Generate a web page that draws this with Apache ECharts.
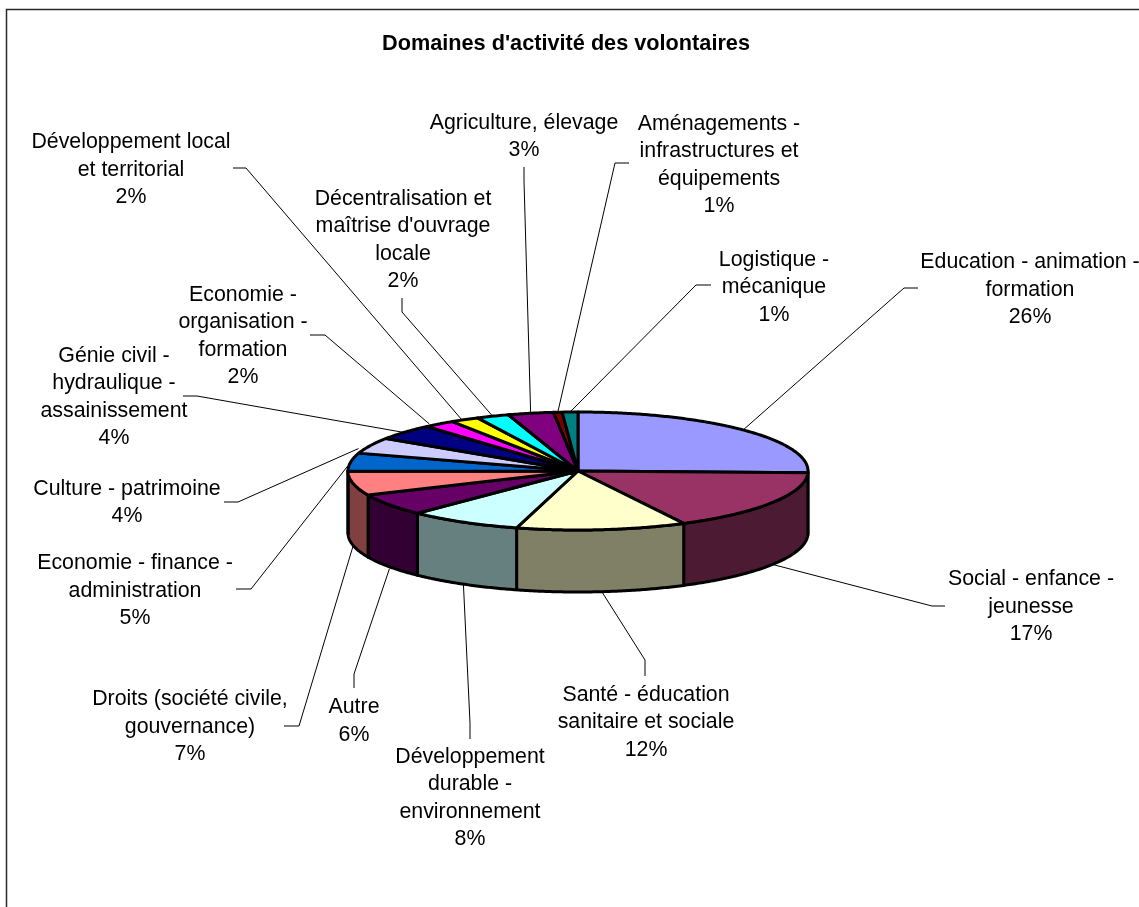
<!DOCTYPE html>
<html>
<head>
<meta charset="utf-8">
<style>html,body{margin:0;padding:0;background:#fff}#c{width:1139px;height:907px}</style>
<script src="https://cdn.jsdelivr.net/npm/echarts@6/dist/echarts.min.js"></script>
</head>
<body>
<div id="c"></div>
<script>
const TITLE = "Domaines d'activité des volontaires";
const CATEGORIES = [
  "Education - animation -\nformation",
  "Social - enfance -\njeunesse",
  "Santé - éducation\nsanitaire et sociale",
  "Développement\ndurable -\nenvironnement",
  "Autre",
  "Droits (société civile,\ngouvernance)",
  "Economie - finance -\nadministration",
  "Culture - patrimoine",
  "Génie civil -\nhydraulique -\nassainissement",
  "Economie -\norganisation -\nformation",
  "Développement local\net territorial",
  "Décentralisation et\nmaîtrise d'ouvrage\nlocale",
  "Agriculture, élevage",
  "Aménagements -\ninfrastructures et\néquipements",
  "Logistique -\nmécanique"
];
const VALUES = [25.5, 16.9, 11.9, 8, 6, 6.6, 5, 4.4, 4.3, 2.2, 2, 2.3, 3.2, 0.6, 1.1];
const COLORS = ["#9999FF","#993366","#FFFFCC","#CCFFFF","#660066","#FF8080","#0066CC","#CCCCFF","#000080","#FF00FF","#FFFF00","#00FFFF","#800080","#800000","#008080"];
const WALL_COLORS = ["#4D4D80","#4D1A33","#808066","#668080","#330033","#804040","#003366","#666680","#000040","#800080","#808000","#008080","#400040","#400000","#004040"];

// Layout only (page pixels): pie geometry, label centres, leader elbows and stubs.
const PIE = {cx: 578, cy: 471, rx: 230, ry: 59, depth: 62};
const LABEL_POS = [[1030,290],[1031,607],[646,722.5],[470,798],[354,721],[190,727],[135,591],[127,502.5],[114,397],[243,336],[131,170],[403,240],[524,136.5],[719,165],[774,287.5]];
const ELBOWS = [[904,288],[932,606],[645,660],[470,723],[354,674],[299,726],[251,589],[238,502],[197,396],[325,335],[246,168],[402,312],[524,181],[615,163],[696,285]];
const STUBS = [[918,288],[945,606],[645,676],[470,739],[354,688],[284,726],[236,589],[224,502],[183,396],[310,335],[233,168],[402,298],[524,167],[629,163],[711,285]];
const ANCHOR_SHIFT = [[0,0],[0,0],[0,0],[0,0],[0,2],[0,0],[-3,4],[-12,3],[-3,0],[-10,0],[-3,0],[0,0],[0,0],[0,0],[0,0]];

const TOTAL = VALUES.reduce((a, b) => a + b, 0);
const CUM = [];
VALUES.reduce((s, v, i) => (CUM[i] = s, s + v), 0);
const toAngle = v => v / TOTAL * Math.PI * 2;
const px = a => PIE.cx + PIE.rx * Math.sin(a);
const py = a => PIE.cy - PIE.ry * Math.cos(a);
const arc = (a0, a1, dy) => {
  const n = Math.max(2, Math.ceil(Math.abs(a1 - a0) / 0.01));
  const pts = [];
  for (let i = 0; i <= n; i++) {
    const a = a0 + (a1 - a0) * i / n;
    pts.push([px(a), py(a) + dy]);
  }
  return pts;
};
const rows = VALUES.map((v, i) => [v, CUM[i], i]);
const outline = {stroke: '#000', lineWidth: 3, lineJoin: 'round'};

function renderWall(params, api) {
  const a0 = toAngle(api.value(1));
  const a1 = a0 + toAngle(api.value(0));
  const s = Math.max(a0, Math.PI / 2), e = Math.min(a1, Math.PI * 1.5);
  if (e <= s) return {type: 'group', children: []};
  const pts = arc(s, e, 0).concat(arc(e, s, PIE.depth));
  return {type: 'polygon', shape: {points: pts},
    style: Object.assign({fill: WALL_COLORS[api.value(2)]}, outline)};
}
function renderTop(params, api) {
  const a0 = toAngle(api.value(1));
  const a1 = a0 + toAngle(api.value(0));
  const pts = [[PIE.cx, PIE.cy]].concat(arc(a0, a1, 0));
  return {type: 'polygon', shape: {points: pts},
    style: Object.assign({fill: COLORS[api.value(2)]}, outline)};
}
function renderLabel(params, api) {
  const i = api.value(2), v = api.value(0);
  const mid = toAngle(api.value(1) + v / 2);
  const front = Math.cos(mid) < 0;
  const ax = px(mid) + ANCHOR_SHIFT[i][0];
  const ay = py(mid) + (front ? PIE.depth : 0) + ANCHOR_SHIFT[i][1];
  return {type: 'group', children: [
    {type: 'polyline', shape: {points: [[ax, ay], ELBOWS[i], STUBS[i]]},
      style: {fill: null, stroke: '#000', lineWidth: 1}},
    {type: 'text', x: LABEL_POS[i][0], y: LABEL_POS[i][1], style: {
      text: CATEGORIES[i] + '\n' + Math.round(v) + '%',
      align: 'center', verticalAlign: 'middle',
      font: '21.33px "Liberation Sans", Arial, sans-serif', lineHeight: 27.5, fill: '#000'}}
  ]};
}

const chart = echarts.init(document.getElementById('c'), null, {renderer: 'canvas'});
chart.setOption({
  animation: false,
  backgroundColor: '#fff',
  title: {text: TITLE, left: 561, top: 28, textAlign: 'center',
    textStyle: {fontFamily: '"Liberation Sans", Arial, sans-serif', fontSize: 21.7, fontWeight: 'bold', color: '#000'}},
  graphic: [{type: 'rect', silent: true, z: -1,
    shape: {x: 6.5, y: 9.5, width: 1200, height: 1000},
    style: {fill: '#fff', stroke: '#2a2a2a', lineWidth: 1.5}}],
  series: [
    {type: 'custom', coordinateSystem: 'none', data: rows, renderItem: renderLabel, z: 1, silent: true},
    {type: 'custom', coordinateSystem: 'none', data: rows, renderItem: renderWall, z: 2, silent: true},
    {type: 'custom', coordinateSystem: 'none', data: rows, renderItem: renderTop, z: 3, silent: true}
  ]
});
</script>
</body>
</html>
